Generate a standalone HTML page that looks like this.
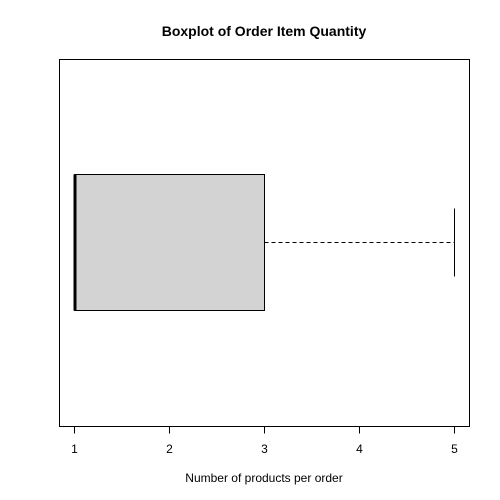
<!DOCTYPE html>
<html><head><meta charset="utf-8"><style>
html,body{margin:0;padding:0;background:#fff;}
svg{display:block;font-family:"Liberation Sans",Arial,sans-serif;}
</style></head><body>
<svg id="chart" width="500" height="500" viewBox="0 0 500 500">
<text x="264" y="36" text-anchor="middle" font-size="14" font-weight="bold">Boxplot of Order Item Quantity</text>
<rect x="59.5" y="59.5" width="410" height="367" fill="none" stroke="#000" stroke-width="1"/>
<g id="xaxis"></g>
<g id="marks"></g>
<text x="264" y="482" text-anchor="middle" font-size="12">Number of products per order</text>
</svg>
<script>
const tickValues = [1, 2, 3, 4, 5];
const tickLabels = ["1", "2", "3", "4", "5"];
const statNames = ["min", "q1", "median", "q3", "max"];
const statValues = [1, 1, 1, 3, 5];

const NS = "http://www.w3.org/2000/svg";
function xs(v){ return 74 + (v - 1) * 95; }
const yCenter = 242.5, boxHalf = 68, stapleHalf = 34;
function mk(tag, attrs, parent){
  const e = document.createElementNS(NS, tag);
  for (const k in attrs) e.setAttribute(k, attrs[k]);
  parent.appendChild(e);
  return e;
}
const ax = document.getElementById('xaxis');
const axLine = mk('line', {x1: xs(tickValues[0]) + .5, x2: xs(tickValues[tickValues.length-1]) + .5, y1: 426.5, y2: 426.5, stroke: '#000'}, ax);


tickValues.forEach((v, i) => {
  const t = mk('line', {x1: xs(v) + .5, x2: xs(v) + .5, y1: 426.5, y2: 433.5, stroke: '#000'}, ax);
  
  
  const l = mk('text', {x: xs(v) + .5, y: 453, 'text-anchor': 'middle', 'font-size': 12}, ax);
  l.textContent = tickLabels[i];
  
  
});
const g = document.getElementById('marks');
const [mn, q1, med, q3, mx] = statValues;
const box = mk('rect', {x: xs(q1) + .5, y: yCenter - boxHalf, width: xs(q3) - xs(q1), height: boxHalf * 2, fill: '#d3d3d3', stroke: '#000'}, g);


const wU = mk('line', {x1: xs(q3) + .5, x2: xs(mx) + .5, y1: yCenter, y2: yCenter, stroke: '#000', 'stroke-dasharray': '4,3'}, g);


const sU = mk('line', {x1: xs(mx) + .5, x2: xs(mx) + .5, y1: yCenter - stapleHalf, y2: yCenter + stapleHalf, stroke: '#000'}, g);


if (mn < q1) {
  const wL = mk('line', {x1: xs(mn) + .5, x2: xs(q1) + .5, y1: yCenter, y2: yCenter, stroke: '#000', 'stroke-dasharray': '4,3'}, g);
  
  
}
const sL = mk('line', {x1: xs(mn) + .5, x2: xs(mn) + .5, y1: yCenter - stapleHalf, y2: yCenter + stapleHalf, stroke: '#000'}, g);


const m = mk('line', {x1: xs(med) + 1, x2: xs(med) + 1, y1: yCenter - boxHalf, y2: yCenter + boxHalf, stroke: '#000', 'stroke-width': 3}, g);


</script>
</body></html>
